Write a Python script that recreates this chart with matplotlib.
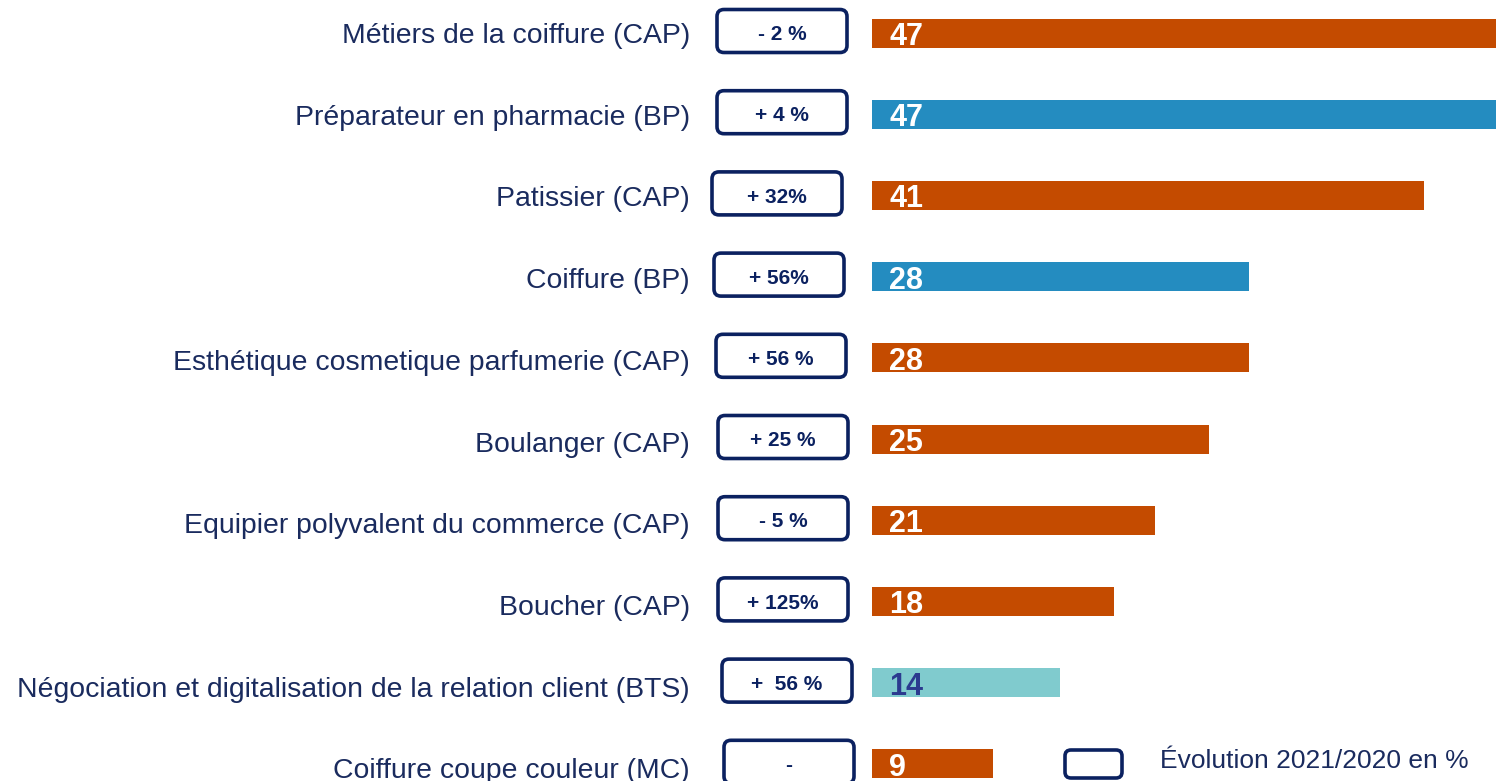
import matplotlib
matplotlib.use("Agg")
import matplotlib.pyplot as plt
from matplotlib.patches import FancyBboxPatch
from matplotlib.transforms import ScaledTranslation

# ---- data ----
categories = [
    "Métiers de la coiffure (CAP)",
    "Préparateur en pharmacie (BP)",
    "Patissier (CAP)",
    "Coiffure (BP)",
    "Esthétique cosmetique parfumerie (CAP)",
    "Boulanger (CAP)",
    "Equipier polyvalent du commerce (CAP)",
    "Boucher (CAP)",
    "Négociation et digitalisation de la relation client (BTS)",
    "Coiffure coupe couleur (MC)",
]
values = [47, 47, 41, 28, 28, 25, 21, 18, 14, 9]
diplomas = ["CAP", "BP", "CAP", "BP", "CAP", "CAP", "CAP", "CAP", "BTS", "MC"]
evolution = ["- 2 %", "+ 4 %", "+ 32%", "+ 56%", "+ 56 %", "+ 25 %",
             "- 5 %", "+ 125%", "+  56 %", "-"]
legend_label = "Évolution 2021/2020 en %"

# ---- style ----
W, H, DPI = 1496, 781, 100
plt.rcParams['font.family'] = ['Liberation Sans', 'DejaVu Sans']
color_map = {"CAP": "#C44B00", "MC": "#C44B00", "BP": "#248CC0", "BTS": "#80CBCE"}
value_color = {"CAP": "white", "MC": "white", "BP": "white", "BTS": "#2B3A8F"}
navy = "#0B2160"
text_navy = "#1A2B5E"

fig = plt.figure(figsize=(W / DPI, H / DPI), dpi=DPI)
ax_left_px = 872
ax = fig.add_axes([ax_left_px / W, 0, 1 - ax_left_px / W, 1])

px_per_x = 13.46
px_per_row = 81.2
first_center_px = 33
xmax = (W - ax_left_px) / px_per_x
ax.set_xlim(0, xmax)
ax.set_ylim((H - first_center_px) / px_per_row, -first_center_px / px_per_row)

ypos = list(range(len(categories)))
bar_h = 29 / px_per_row
ax.barh(ypos, values, height=bar_h, color=[color_map[d] for d in diplomas])

for y, v, d in zip(ypos, values, diplomas):
    ax.text(17 / px_per_x, y + 0.05, str(v), ha="left", va="center",
            fontsize=22, fontweight="bold", color=value_color[d])

ax.set_yticks(ypos)
ax.set_yticklabels(categories, fontsize=20.4, color=text_navy)
ax.tick_params(axis="y", length=0, pad=(ax_left_px - 690) * 72 / DPI)
for i, t in enumerate(ax.get_yticklabels()):
    shift = ScaledTranslation(0, -(0.5 * i) / DPI, fig.dpi_scale_trans)
    t.set_transform(t.get_transform() + shift)
ax.set_xticks([])
for s in ax.spines.values():
    s.set_visible(False)

# evolution boxes
box_left_px = [717, 717, 712, 714, 716, 718, 718, 718, 722, 724]
box_w_px = 130
box_h_px = 43
aspect = px_per_x / px_per_row
for y, lab, lpx in zip(ypos, evolution, box_left_px):
    x0 = (lpx - ax_left_px) / px_per_x
    w = box_w_px / px_per_x
    h = box_h_px / px_per_row
    yc = y - 2 / px_per_row
    p = FancyBboxPatch((x0, yc - h / 2), w, h,
                       boxstyle="round,pad=0,rounding_size=%f" % (7 / px_per_x),
                       mutation_aspect=aspect, linewidth=2.6, edgecolor=navy,
                       facecolor="white", clip_on=False, transform=ax.transData)
    ax.add_patch(p)
    ax.text(x0 + w / 2, yc + 0.045, lab, ha="center", va="center", fontsize=15,
            fontweight="bold", color=navy, clip_on=False)

# legend
lx0 = (1065 - ax_left_px) / px_per_x
lw = 57 / px_per_x
ly_c = (764 - first_center_px) / px_per_row
lh = 28 / px_per_row
ax.add_patch(FancyBboxPatch((lx0, ly_c - lh / 2), lw, lh,
                            boxstyle="round,pad=0,rounding_size=%f" % (6 / px_per_x),
                            mutation_aspect=aspect, linewidth=2.6, edgecolor=navy,
                            facecolor="white", clip_on=False))
ax.text((1160 - ax_left_px) / px_per_x, (761 - first_center_px) / px_per_row,
        legend_label, ha="left", va="center", fontsize=19, color=text_navy,
        clip_on=False)

fig.savefig("out.png", dpi=DPI)
